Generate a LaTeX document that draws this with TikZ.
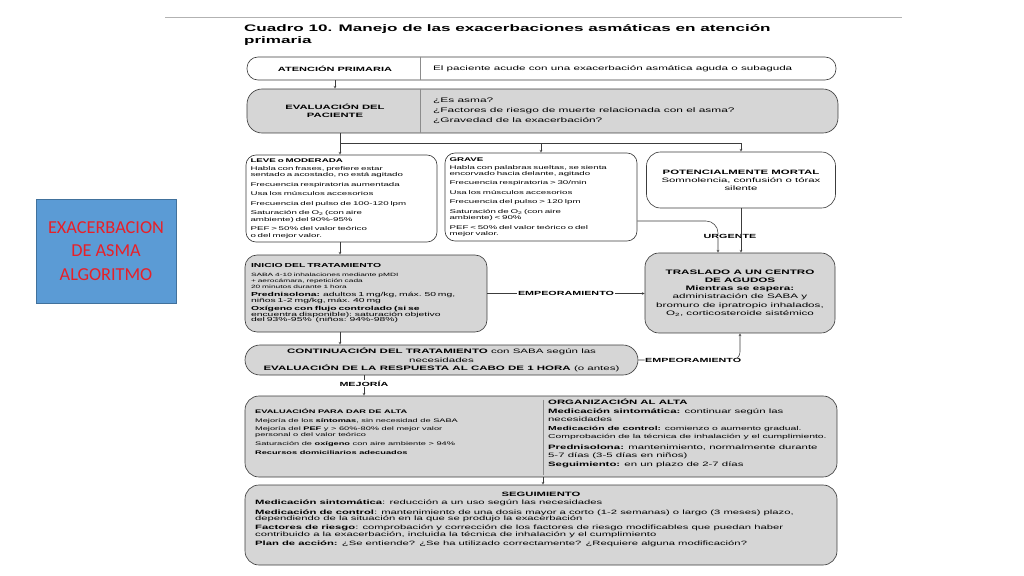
\documentclass[tikz,border=0pt]{standalone}
\usepackage{fontspec}
\setmainfont{Liberation Sans}[FakeStretch=1.8]
\newfontfamily\slidefont{Carlito}
\usepackage{xcolor}
\usepackage{tikz}
\usetikzlibrary{shapes.geometric, arrows, positioning, calc}

\definecolor{boxgray}{RGB}{214,214,214}
\definecolor{linegray}{RGB}{60,60,60}
\definecolor{slideblue}{RGB}{91,155,213}
\definecolor{slideedge}{RGB}{65,113,156}
\definecolor{slidered}{RGB}{232,32,40}

\begin{document}
\begin{tikzpicture}[
        x=0.05cm, y=-0.05cm,
        box/.style={rectangle, rounded corners=0.6cm, draw=linegray, line width=0.9pt, fill=white, inner xsep=0.2cm, inner ysep=0.05cm},
        graybox/.style={box, fill=boxgray},
        txt/.style={inner sep=0pt, align=left},
        divline/.style={line width=0.6pt, draw=black!45},
        link/.style={line width=0.8pt, draw=linegray},
        arrow/.style={line width=0.8pt, draw=linegray, ->, >=stealth},
        tag/.style={font=\bfseries\fontsize{8.5}{10}\selectfont, fill=white, inner sep=1pt}
    ]
    \path[use as bounding box, fill=white] (0,0) rectangle (1024,576);

    % slide label
    \node (label) [rectangle, draw=slideedge, line width=0.8pt, fill=slideblue, minimum width=7cm, minimum height=5.2cm, align=center, text=slidered, font=\slidefont\fontsize{26}{33}\selectfont] at (106,251) {EXACERBACION\\DE ASMA\\ALGORITMO};

    % header
    \draw [line width=1.2pt, black!30] (165,17) -- (902,17);
    \node (title) [txt, anchor=north west, font=\bfseries\fontsize{13.5}{17.5}\selectfont] at (244,24) {Cuadro 10. Manejo de las exacerbaciones asmáticas en atención\\primaria};

    % top rows
    \node (aten) [box, rounded corners=0.55cm, minimum width=29.45cm, minimum height=1.15cm] at (541.5,68.5) {};
    \node (atenL) [font=\bfseries\fontsize{8.7}{10}\selectfont] at (335,68.5) {ATENCIÓN PRIMARIA};
    \node (atenR) [txt, anchor=west, font=\fontsize{9.2}{11}\selectfont] at (433,68.5) {El paciente acude con una exacerbación asmática aguda o subaguda};

    \node (eval) [graybox, rounded corners=0.75cm, minimum width=29.55cm, minimum height=2.2cm] at (542.5,111) {};
    \node (evalL) [align=center, font=\bfseries\fontsize{8.9}{11.4}\selectfont] at (335,111) {EVALUACIÓN DEL\\PACIENTE};
    \node (evalR) [txt, anchor=west, font=\fontsize{9.4}{14}\selectfont] at (433,111) {¿Es asma?\\¿Factores de riesgo de muerte relacionada con el asma?\\¿Gravedad de la exacerbación?};

    % severity
    \node (leve) [box, rounded corners=0.5cm, minimum width=9.55cm, minimum height=4.35cm, text width=9.1cm, align=left, font=\fontsize{7.7}{9}\selectfont] at (341.5,198.5) {\textbf{LEVE o MODERADA}\\[2.4pt]
        Habla con frases, prefiere estar\\
        sentado a acostado, no está agitado\\[4.5pt]
        Frecuencia respiratoria aumentada\\[4.5pt]
        Usa los músculos accesorios\\[4.5pt]
        Frecuencia del pulso de 100-120 lpm\\[4.5pt]
        Saturación de O\textsubscript{2} (con aire\\
        ambiente) del 90\%-95\%\\[4.5pt]
        PEF > 50\% del valor teórico\\
        o del mejor valor.};
    \node (grave) [box, rounded corners=0.5cm, minimum width=9.6cm, minimum height=4.4cm, text width=9.15cm, align=left, font=\fontsize{7.7}{9}\selectfont] at (541,197) {\textbf{GRAVE}\\[2.4pt]
        Habla con palabras sueltas, se sienta\\
        encorvado hacia delante, agitado\\[4.5pt]
        Frecuencia respiratoria > 30/min\\[4.5pt]
        Usa los músculos accesorios\\[4.5pt]
        Frecuencia del pulso > 120 lpm\\[4.5pt]
        Saturación de O\textsubscript{2} (con aire\\
        ambiente) < 90\%\\[4.5pt]
        PEF < 50\% del valor teórico o del\\
        mejor valor.};
    \node (pot) [box, rounded corners=0.7cm, minimum width=9.45cm, minimum height=2.8cm, align=center, font=\fontsize{9}{11.5}\selectfont] at (741,180) {\textbf{POTENCIALMENTE MORTAL}\\Somnolencia, confusión o tórax\\silente};

    % treatment
    \node (inicio) [graybox, minimum width=12.1cm, minimum height=3.85cm, text width=11.5cm, inner xsep=0.3cm, align=left, font=\fontsize{8.2}{8}\selectfont] at (366,293.5) {\textbf{INICIO DEL TRATAMIENTO}\\[5pt]
        {\fontsize{6.6}{8}\selectfont SABA 4-10 inhalaciones mediante pMDI}\\
        {\fontsize{6.6}{8}\selectfont + aerocámara, repetición cada}\\
        {\fontsize{6.6}{8}\selectfont 20 minutos durante 1 hora}\\[4pt]
        \textbf{Prednisolona:} adultos 1 mg/kg, máx. 50 mg,\\
        niños 1-2 mg/kg, máx. 40 mg\\[4pt]
        \textbf{Oxígeno con flujo controlado (si se}\\
        encuentra disponible): saturación objetivo\\
        del 93\%-95\%\ \ (niños: 94\%-98\%)};
    \node (traslado) [graybox, rounded corners=0.7cm, minimum width=9.5cm, minimum height=4cm, align=center, font=\fontsize{9.2}{11.8}\selectfont] at (740,293) {\textbf{TRASLADO A UN CENTRO}\\\textbf{DE AGUDOS}\\\textbf{Mientras se espera:}\\administración de SABA y\\bromuro de ipratropio inhalados,\\O\textsubscript{2}, corticosteroide sistémico};
    \node (cont) [graybox, rounded corners=0.75cm, minimum width=19.65cm, minimum height=1.5cm, inner ysep=0pt, align=center, font=\fontsize{9.1}{11.8}\selectfont] at (441.5,360) {\textbf{CONTINUACIÓN DEL TRATAMIENTO} con SABA según las\\necesidades\\\textbf{EVALUACIÓN DE LA RESPUESTA AL CABO DE 1 HORA} (o antes)};

    % discharge
    \node (alta) [graybox, rounded corners=0.7cm, minimum width=29.6cm, minimum height=4.05cm] at (541,436.5) {};
    \node (altaL) [txt, anchor=north west, font=\fontsize{7.3}{8.5}\selectfont] at (255,409) {\textbf{EVALUACIÓN PARA DAR DE ALTA}\\[3.5pt]
        Mejoría de los \textbf{síntomas}, sin necesidad de SABA\\[3.3pt]
        Mejoría del \textbf{PEF} y > 60\%-80\% del mejor valor\\
        personal o del valor teórico\\[5pt]
        Saturación de \textbf{oxígeno} con aire ambiente > 94\%\\[3.3pt]
        \textbf{Recursos domiciliarios adecuados}};
    \node (altaR) [txt, anchor=north west, font=\fontsize{9}{11.8}\selectfont] at (548,398.5) {\textbf{ORGANIZACIÓN AL ALTA}\\[1.4pt]
        \textbf{Medicación sintomática:} continuar según las\\
        necesidades\\
        {\fontsize{8.2}{11.8}\selectfont\textbf{Medicación de control:} comienzo o aumento gradual.}\\[0.8pt]
        {\fontsize{8.2}{11.8}\selectfont Comprobación de la técnica de inhalación y el cumplimiento.}\\[3.8pt]
        \textbf{Prednisolona:} mantenimiento, normalmente durante\\[-0.8pt]
        5-7 días (3-5 días en niños)\\[1pt]
        \textbf{Seguimiento:} en un plazo de 2-7 días};

    \node (seg) [graybox, rounded corners=0.7cm, minimum width=29.6cm, minimum height=4cm] at (541,525) {};
    \node (segT) [font=\bfseries\fontsize{8.9}{10}\selectfont, inner sep=0pt, anchor=base] at (541,496) {SEGUIMIENTO};
    \node (segB) [txt, anchor=north west, font=\fontsize{8.9}{9.5}\selectfont] at (255,500) {\textbf{Medicación sintomática}: reducción a un uso según las necesidades\\[3.7pt]
        \textbf{Medicación de control}: mantenimiento de una dosis mayor a corto (1-2 semanas) o largo (3 meses) plazo,\\
        dependiendo de la situación en la que se produjo la exacerbación\\[3.7pt]
        \textbf{Factores de riesgo}: comprobación y corrección de los factores de riesgo modificables que puedan haber\\
        contribuido a la exacerbación, incluida la técnica de inhalación y el cumplimiento\\[3.7pt]
        \textbf{Plan de acción:} ¿Se entiende? ¿Se ha utilizado correctamente? ¿Requiere alguna modificación?};

    % dividers
    \coordinate (div) at (420,0);
    \coordinate (div2) at (543,0);
    \draw [divline] (aten.north -| div) -- (aten.south -| div);
    \draw [divline] (eval.north -| div) -- (eval.south -| div);
    \draw [divline] ($(alta.north -| div2)+(0,4)$) -- ($(alta.south -| div2)+(0,-2)$);

    % connectors
    \coordinate (split) at (340,143);
    \coordinate (mej) at (364,0);
    \draw [arrow] (aten.south -| atenL) -- (eval.north -| atenL);
    \draw [link] (eval.south -| split) -- (split);
    \draw [link] (split) -- (split -| pot);
    \draw [arrow] (split) -- (leve.north -| split);
    \draw [arrow] (split -| grave) -- (grave.north);
    \draw [arrow] (split -| pot) -- (pot.north);

    \draw [arrow, rounded corners=0.6cm] ($(grave.east)+(0,24)$) -| ($(traslado.north)+(-22,0)$);
    \draw [arrow] (pot.south) -- (pot.south |- traslado.north);
    \node (urg) [tag, inner sep=0.3pt] at (730,236) {URGENTE};

    \draw [arrow] (leve.south -| split) -- (inicio.north -| split);
    \draw [arrow] (inicio.east) -- node[tag] (emp1) {EMPEORAMIENTO} (inicio.east -| traslado.west);
    \draw [arrow] (inicio.south -| split) -- (cont.north -| split);
    \draw [arrow, rounded corners=0.4cm] (cont.east) -| node[tag, pos=0.27] (emp2) {EMPEORAMIENTO} (traslado.south);
    \draw [arrow] (cont.south -| mej) -- node[tag, pos=0.42] (mejoria) {MEJORÍA} (alta.north -| mej);
    \draw [arrow] (alta.south -| div2) -- (seg.north -| div2);

\end{tikzpicture}
\end{document}
